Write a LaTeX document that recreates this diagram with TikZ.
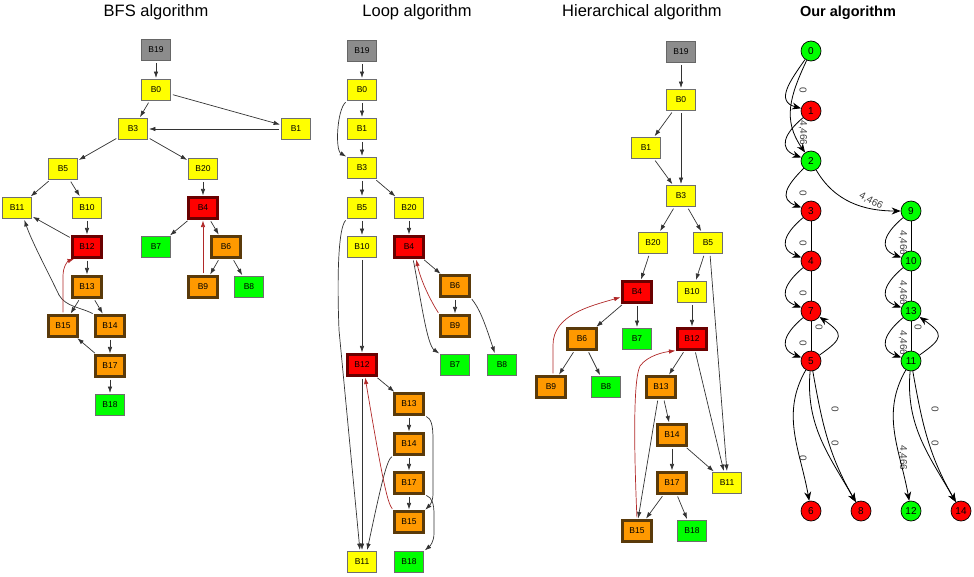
\documentclass[tikz,border=0pt]{standalone}
\usepackage{fontspec}
\setmainfont{Liberation Sans}
\usepackage{tikz}
\usetikzlibrary{arrows.meta}
\usetikzlibrary{positioning}

\definecolor{entrygray}{HTML}{8C8C8C}
\definecolor{blkyellow}{HTML}{FFFF00}
\definecolor{blkgreen}{HTML}{00FF00}
\definecolor{blkorange}{HTML}{FF9900}
\definecolor{blkred}{HTML}{FF0000}
\definecolor{backred}{HTML}{B02828}
\definecolor{bordergray}{HTML}{6E6E6E}
\definecolor{borderbrown}{HTML}{5A3A0A}
\definecolor{borderdarkred}{HTML}{6A0000}

\pgfdeclarelayer{background}
\pgfsetlayers{background,main}

\tikzset{
	blk/.style={rectangle, draw=bordergray, line width=0.9pt, minimum width=29pt, minimum height=21pt, inner sep=0pt, font=\fontsize{8.5}{10}\selectfont},
	entryblk/.style={blk, fill=entrygray, draw=black!60},
	plainblk/.style={blk, fill=blkyellow},
	exitblk/.style={blk, fill=blkgreen},
	headblk/.style={blk, fill=blkred, draw=borderdarkred, line width=2.1pt},
	bodyblk/.style={blk, fill=blkorange, draw=borderbrown, line width=2.1pt},
	cfgedge/.style={draw=black!80, line width=0.7pt, -{Latex[length=6.5pt,width=4.5pt]}, shorten <=2pt, shorten >=1pt},
	backedge/.style={cfgedge, draw=backred},
	title/.style={font=\fontsize{16.5}{18}\selectfont},
	redstate/.style={circle, draw=black, line width=0.7pt, fill=blkred, minimum size=20pt, inner sep=0pt, font=\fontsize{10}{12}\selectfont},
	greenstate/.style={redstate, fill=blkgreen},
	ouredge/.style={draw=black, line width=0.8pt, -{Stealth[length=9pt,width=7pt]}},
	ourline/.style={draw=black, line width=0.8pt},
	wtext/.style={font=\fontsize{10}{12}\selectfont, text=black!75, inner sep=0pt},
	wlabel/.style={wtext, rotate=-90},
}

\begin{document}
\begin{tikzpicture}[x=1pt, y=1pt]

\useasboundingbox (0,0) rectangle (974,-576);

\node at (156,-12) [title] (tbfs) {BFS algorithm};
\node at (417,-12) [title] (tloop) {Loop algorithm};
\node at (642,-12) [title] (thier) {Hierarchical algorithm};
\node at (848,-13) [title, font=\fontsize{14.5}{17}\selectfont\bfseries] (tour) {Our algorithm};

% BFS algorithm
\node at (156,-50) [entryblk] (bfs19) {B19};
\node at (156,-90) [plainblk] (bfs0) {B0};
\node at (133,-129) [plainblk] (bfs3) {B3};
\node at (296,-129) [plainblk] (bfs1) {B1};
\node at (63,-169) [plainblk] (bfs5) {B5};
\node at (203,-169) [plainblk] (bfs20) {B20};
\node at (17,-208) [plainblk] (bfs11) {B11};
\node at (87,-208) [plainblk] (bfs10) {B10};
\node at (203,-208) [headblk] (bfs4) {B4};
\node at (87,-247) [headblk] (bfs12) {B12};
\node at (156,-247) [exitblk] (bfs7) {B7};
\node at (226,-247) [bodyblk] (bfs6) {B6};
\node at (87,-287) [bodyblk] (bfs13) {B13};
\node at (203,-287) [bodyblk] (bfs9) {B9};
\node at (249,-287) [exitblk] (bfs8) {B8};
\node at (63,-326) [bodyblk] (bfs15) {B15};
\node at (110,-326) [bodyblk] (bfs14) {B14};
\node at (110,-366) [bodyblk] (bfs17) {B17};
\node at (110,-405) [exitblk] (bfs18) {B18};

\draw[cfgedge] (bfs19) -- (bfs0);
\draw[cfgedge] (bfs0) -- (bfs3);
\draw[cfgedge] (bfs0) -- (bfs1);
\draw[cfgedge] (bfs1) -- (bfs3);
\draw[cfgedge] (bfs3) -- (bfs5);
\draw[cfgedge] (bfs3) -- (bfs20);
\draw[cfgedge] (bfs5) -- (bfs11);
\draw[cfgedge] (bfs5) -- (bfs10);
\draw[cfgedge] (bfs20) -- (bfs4);
\draw[cfgedge] (bfs10) -- (bfs12);
\draw[cfgedge] (bfs12) -- (bfs11);
\draw[cfgedge] (bfs12) -- (bfs13);
\draw[cfgedge] (bfs4) -- (bfs7);
\draw[cfgedge] (bfs4) -- (bfs6);
\draw[cfgedge] (bfs6) -- (bfs9);
\draw[cfgedge] (bfs6) -- (bfs8);
\draw[cfgedge] (bfs13) -- (bfs15);
\draw[cfgedge] (bfs13) -- (bfs14);
\draw[cfgedge] (bfs14) -- (bfs17);
\draw[cfgedge] (bfs17) -- (bfs15);
\draw[cfgedge] (bfs17) -- (bfs18);
\draw[cfgedge] (bfs14.north west) .. controls (80,-307) and (66,-307) .. (59,-295) .. controls (48,-272) and (32,-242) .. ([xshift=7pt]bfs11.south);
\draw[backedge] (bfs9) -- (bfs4);
\draw[backedge] (bfs15.north) -- (63,-276) .. controls (63,-266) and (68,-261) .. ([xshift=-12pt]bfs12.south);

% Loop algorithm
\node at (362,-51) [entryblk] (lp19) {B19};
\node at (362,-90) [plainblk] (lp0) {B0};
\node at (362,-129) [plainblk] (lp1) {B1};
\node at (362,-168) [plainblk] (lp3) {B3};
\node at (362,-208) [plainblk] (lp5) {B5};
\node at (409,-208) [plainblk] (lp20) {B20};
\node at (362,-247) [plainblk] (lp10) {B10};
\node at (409,-247) [headblk] (lp4) {B4};
\node at (455,-286) [bodyblk] (lp6) {B6};
\node at (455,-326) [bodyblk] (lp9) {B9};
\node at (455,-365) [exitblk] (lp7) {B7};
\node at (502,-365) [exitblk] (lp8) {B8};
\node at (362,-365) [headblk] (lp12) {B12};
\node at (409,-404) [bodyblk] (lp13) {B13};
\node at (409,-444) [bodyblk] (lp14) {B14};
\node at (409,-483) [bodyblk] (lp17) {B17};
\node at (409,-522) [bodyblk] (lp15) {B15};
\node at (362,-562) [plainblk] (lp11) {B11};
\node at (409,-562) [exitblk] (lp18) {B18};

\draw[cfgedge] (lp19) -- (lp0);
\draw[cfgedge] (lp0) -- (lp1);
\draw[cfgedge] (lp1) -- (lp3);
\draw[cfgedge] (lp0.south west) .. controls (337,-110) and (335,-150) .. (lp3.north west);
\draw[cfgedge] (lp3) -- (lp5);
\draw[cfgedge] (lp3) -- (lp20);
\draw[cfgedge] (lp5) -- (lp10);
\draw[cfgedge] (lp20) -- (lp4);
\draw[cfgedge] (lp10) -- (lp12);
\draw[cfgedge] (lp4) -- (lp6);
\draw[cfgedge] (lp6) -- (lp9);
\draw[cfgedge] (lp6.south east) .. controls (479,-308) and (484,-320) .. ([xshift=-7pt]lp8.north);
\draw[cfgedge] ([xshift=4pt]lp4.south) .. controls (421,-300) and (427,-345) .. (lp7.north west);
\draw[backedge] (lp9.north west) .. controls (432,-303) and (421,-282) .. ([xshift=7pt]lp4.south);
\draw[cfgedge] (lp5.south west) .. controls (338,-228) and (337,-280) .. (339,-330) -- ([xshift=-2pt]lp11.north);
\draw[cfgedge] (lp12) -- (lp11);
\draw[cfgedge] (lp12) -- (lp13);
\draw[cfgedge] (lp13) -- (lp14);
\draw[cfgedge] (lp14) -- (lp17);
\draw[cfgedge] (lp17) -- (lp15);
\draw[cfgedge] (lp13.south east) .. controls (431,-419) and (433,-424) .. (433,-440) -- (433,-494) .. controls (433,-503) and (428,-507) .. (lp15.north east);
\draw[cfgedge] (lp17.south east) .. controls (432,-498) and (434,-503) .. (434,-515) -- (434,-533) .. controls (434,-542) and (430,-546) .. (lp18.north east);
\draw[cfgedge] (lp14.south west) .. controls (387,-460) and (382,-480) .. ([xshift=5pt]lp11.north);
\draw[backedge] (lp15.north west) .. controls (388,-503) and (384,-490) .. ([xshift=3pt]lp12.south);

% Hierarchical algorithm
\node at (681,-52) [entryblk] (hr19) {B19};
\node at (681,-100) [plainblk] (hr0) {B0};
\node at (646,-148) [plainblk] (hr1) {B1};
\node at (681,-196) [plainblk] (hr3) {B3};
\node at (653,-243) [plainblk] (hr20) {B20};
\node at (708,-243) [plainblk] (hr5) {B5};
\node at (637,-292) [headblk] (hr4) {B4};
\node at (692,-292) [plainblk] (hr10) {B10};
\node at (582,-339) [bodyblk] (hr6) {B6};
\node at (637,-339) [exitblk] (hr7) {B7};
\node at (692,-339) [headblk] (hr12) {B12};
\node at (551,-387) [bodyblk] (hr9) {B9};
\node at (606,-387) [exitblk] (hr8) {B8};
\node at (661,-387) [bodyblk] (hr13) {B13};
\node at (672,-435) [bodyblk] (hr14) {B14};
\node at (727,-483) [plainblk] (hr11) {B11};
\node at (672,-483) [bodyblk] (hr17) {B17};
\node at (637,-531) [bodyblk] (hr15) {B15};
\node at (692,-531) [exitblk] (hr18) {B18};

\draw[cfgedge] (hr19) -- (hr0);
\draw[cfgedge] (hr0) -- (hr1);
\draw[cfgedge] (hr0) -- (hr3);
\draw[cfgedge] (hr1) -- (hr3);
\draw[cfgedge] (hr3) -- (hr20);
\draw[cfgedge] (hr3) -- (hr5);
\draw[cfgedge] (hr20) -- (hr4);
\draw[cfgedge] (hr5) -- (hr10);
\draw[cfgedge] ([xshift=2pt]hr5.south) -- (hr11.north);
\draw[cfgedge] (hr4) -- (hr6);
\draw[cfgedge] (hr4) -- (hr7);
\draw[cfgedge] (hr10) -- (hr12);
\draw[cfgedge] (hr6) -- (hr9);
\draw[cfgedge] (hr6) -- (hr8);
\draw[cfgedge] (hr12) -- (hr13);
\draw[cfgedge] ([xshift=3pt]hr12.south) -- ([xshift=-3pt]hr11.north);
\draw[cfgedge] (hr13) -- (hr14);
\draw[cfgedge] ([xshift=-3pt]hr13.south) -- ([xshift=1pt]hr15.north);
\draw[cfgedge] (hr14) -- (hr17);
\draw[cfgedge] (hr14) -- (hr11);
\draw[cfgedge] (hr17) -- (hr15);
\draw[cfgedge] (hr17) -- (hr18);
\draw[backedge] ([xshift=2pt]hr9.north) -- (553,-345) .. controls (553,-315) and (590,-306) .. ([yshift=-5pt]hr4.west);
\draw[backedge] (hr15.north) .. controls (634,-450) and (633,-380) .. (640,-366) .. controls (648,-355) and (665,-352) .. (hr12.south west);

% Our algorithm
\node at (811,-51) [greenstate] (our0) {0};
\node at (811,-111) [redstate] (our1) {1};
\node at (811,-161) [greenstate] (our2) {2};
\node at (811,-211) [redstate] (our3) {3};
\node at (811,-261) [redstate] (our4) {4};
\node at (811,-311) [redstate] (our7) {7};
\node at (811,-361) [redstate] (our5) {5};
\node at (911,-211) [greenstate] (our9) {9};
\node at (911,-261) [greenstate] (our10) {10};
\node at (911,-311) [greenstate] (our13) {13};
\node at (911,-361) [greenstate] (our11) {11};
\node at (811,-511) [redstate] (our6) {6};
\node at (861,-511) [redstate] (our8) {8};
\node at (911,-511) [greenstate] (our12) {12};
\node at (961,-511) [redstate] (our14) {14};

\begin{pgfonlayer}{background}
	\node at (803,-90) [wlabel] (w01) {0};
	\node at (803,-133) [wlabel] (w12) {4,466};
	\node at (803,-193) [wlabel] (w23) {0};
	\node at (871,-201) [wtext, rotate=-28] (w29) {4,466};
	\node at (803,-243) [wlabel] (w34) {0};
	\node at (803,-293) [wlabel] (w47) {0};
	\node at (803,-343) [wlabel] (w75) {0};
	\node at (819,-327) [wlabel] (w57) {0};
	\node at (903,-243) [wlabel] (w910) {4,466};
	\node at (903,-293) [wlabel] (w1013) {4,466};
	\node at (903,-343) [wlabel] (w1311) {4,466};
	\node at (918,-327) [wlabel] (w1113) {0};
	\node at (803,-458) [wlabel] (w56) {0};
	\node at (835,-409) [wlabel] (w58a) {0};
	\node at (835,-443) [wlabel] (w58b) {0};
	\node at (903,-458) [wlabel] (w1112) {4,466};
	\node at (935,-409) [wlabel] (w1114a) {0};
	\node at (935,-443) [wlabel] (w1114b) {0};
\end{pgfonlayer}

\draw[ouredge] (our0) to[out=235, in=165, looseness=1.4] (our1);
\draw[ouredge] (our0) to[out=245, in=125, looseness=1.1] (our2);
\draw[ouredge] (our1) to[out=220, in=160, looseness=1.6] (our2);
\draw[ouredge] (our2) to[out=225, in=160, looseness=1.6] (our3);
\draw[ouredge] (our2) to[out=-60, in=180] (our9);
\draw[ouredge] (our3) to[out=220, in=160, looseness=1.6] (our4);
\draw[ourline] (our3) -- (our4);
\draw[ouredge] (our4) to[out=220, in=160, looseness=1.6] (our7);
\draw[ourline] (our4) -- (our7);
\draw[ouredge] (our7) to[out=220, in=160, looseness=1.6] (our5);
\draw[ourline] (our7) -- (our5);
\draw[ouredge] (our5) to[out=35, in=-35, looseness=2] (our7);
\draw[ouredge] (our9) to[out=220, in=160, looseness=1.6] (our10);
\draw[ourline] (our9) -- (our10);
\draw[ouredge] (our10) to[out=220, in=160, looseness=1.6] (our13);
\draw[ourline] (our10) -- (our13);
\draw[ouredge] (our13) to[out=220, in=160, looseness=1.6] (our11);
\draw[ourline] (our13) -- (our11);
\draw[ouredge] (our11) to[out=35, in=-35, looseness=2] (our13);
\draw[ouredge] (our5) to[out=240, in=100] (our6);
\draw[ouredge] (our5) to[out=-95, in=120] (our8);
\draw[ouredge] (our5) to[out=-80, in=120] (our8);
\draw[ouredge] (our11) to[out=240, in=100] (our12);
\draw[ouredge] (our11) to[out=-95, in=120] (our14);
\draw[ouredge] (our11) to[out=-80, in=120] (our14);

\end{tikzpicture}
\end{document}
